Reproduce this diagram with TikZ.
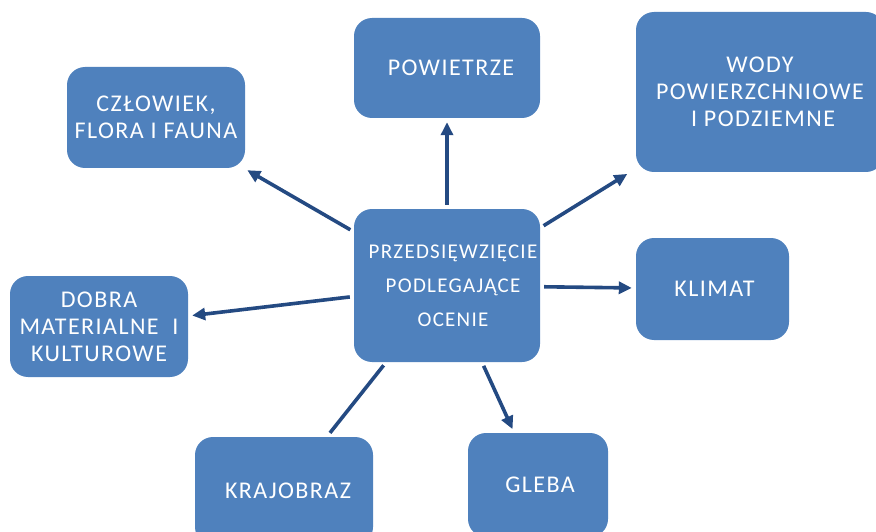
\documentclass[tikz,border=0pt]{standalone}
\usepackage{fontspec}
\setmainfont[LetterSpace=6]{Carlito}
\usetikzlibrary{arrows.meta}
\definecolor{boxblue}{RGB}{79,129,189}
\definecolor{arrowblue}{RGB}{36,74,130}
\begin{document}
\begin{tikzpicture}[x=1pt,y=-1pt,
  topic/.style={fill=boxblue, draw=none, rounded corners=18pt, inner sep=0pt,
    text=white, align=center, font=\fontsize{24}{27}\selectfont},
  link/.style={draw=arrowblue, line width=3.6pt,
    -{Triangle[length=13pt,width=12pt]}, shorten <=4pt, shorten >=4pt},
  plainlink/.style={draw=arrowblue, line width=3.6pt, shorten <=4pt, shorten >=5pt}]
\useasboundingbox (0,0) rectangle (876,532);

% central project box
\node[topic, minimum width=186pt, minimum height=153pt,
  font=\fontsize{21}{34}\selectfont] (proj) at (447,285.5)
  {\hspace*{12pt}PRZEDSIĘWZIĘCIE\\\hspace*{12pt}PODLEGAJĄCE\\\hspace*{12pt}OCENIE};

% environmental components
\node[topic, minimum width=186pt, minimum height=100pt] (air) at (447,68)
  {\hspace*{8pt}POWIETRZE};
\node[topic, minimum width=248pt, minimum height=160pt] (water) at (760,92)
  {WODY\\POWIERZCHNIOWE\\\hspace*{6pt}I PODZIEMNE};
\node[topic, minimum width=178pt, minimum height=101pt] (life) at (156,117.5)
  {CZŁOWIEK,\\FLORA I FAUNA};
\node[topic, minimum width=178pt, minimum height=101pt] (goods) at (99,326.5)
  {DOBRA\\MATERIALNE~~I\\KULTUROWE};
\node[topic, minimum width=153pt, minimum height=102pt] (climate) at (712.5,289)
  {\hspace*{4pt}KLIMAT};
\node[topic, minimum width=178pt, minimum height=108pt] (landscape) at (284,491)
  {\hspace*{8pt}KRAJOBRAZ};
\node[topic, minimum width=140pt, minimum height=104pt] (soil) at (538,485)
  {\hspace*{4pt}GLEBA};

% connectors
\draw[link] (proj) -- (air);
\draw[link, shorten >=10pt] (proj) -- (water);
\draw[link] (proj) -- (life);
\draw[link] (proj) -- (goods);
\draw[link] (proj) -- (climate);
\draw[plainlink] (proj) -- (landscape);
\draw[link] (proj) -- (soil);
\end{tikzpicture}
\end{document}
